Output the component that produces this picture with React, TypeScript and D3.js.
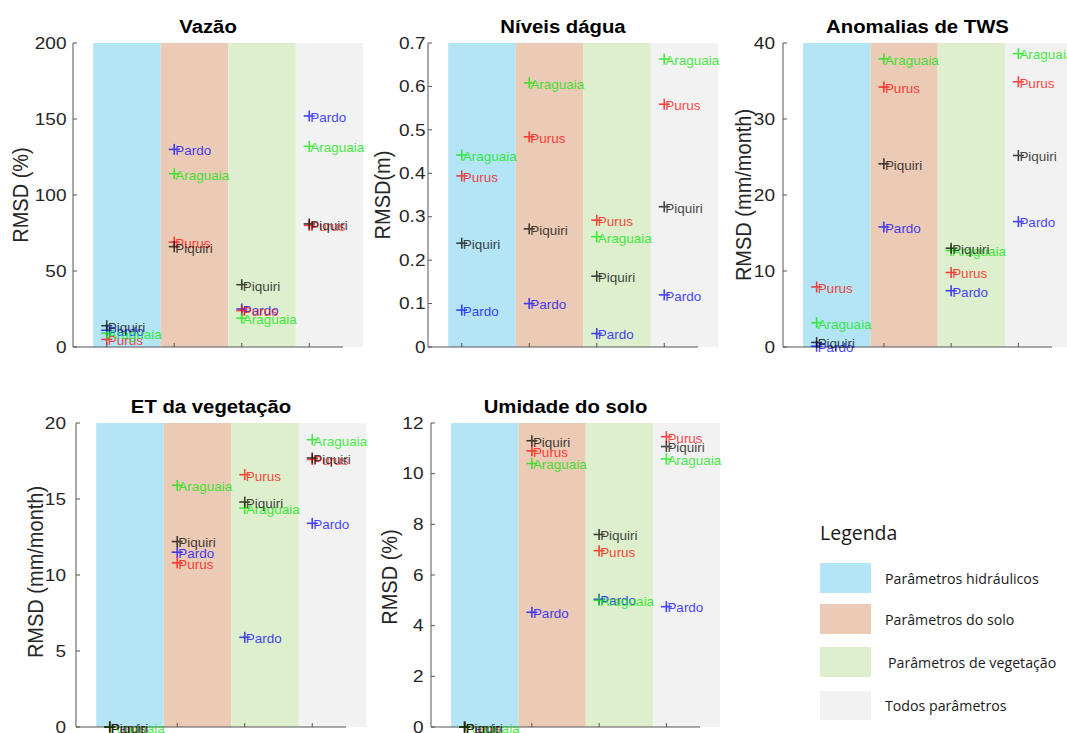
import React from "react";
import * as d3 from "d3";

// ---------- data ----------
const basins = ["Pardo", "Purus", "Araguaia", "Piquiri"];
const basinColors = ["#0000ff", "#ff0000", "#00e600", "#000000"];
const groups = ["Parâmetros hidráulicos", "Parâmetros do solo", "Parâmetros de vegetação", "Todos parâmetros"];
const groupColors = ["#b3e5f6", "#ebcbb6", "#ddefcd", "#f2f2f2"];
const groupIndex = [1, 2, 3, 4];

// rows: Pardo, Purus, Araguaia, Piquiri ; cols: groups
const vazaoValues = [
  [11, 130, 25, 152],
  [5, 69, 24, 80],
  [9, 114, 19, 132],
  [14, 66, 41, 81],
];
const vazaoTicks = [0, 50, 100, 150, 200];
const vazaoTickLabels = ["0", "50", "100", "150", "200"];

const niveisValues = [
  [0.085, 0.1, 0.031, 0.12],
  [0.394, 0.484, 0.292, 0.559],
  [0.442, 0.608, 0.254, 0.663],
  [0.239, 0.272, 0.163, 0.323],
];
const niveisTicks = [0, 0.1, 0.2, 0.3, 0.4, 0.5, 0.6, 0.7];
const niveisTickLabels = ["0", "0.1", "0.2", "0.3", "0.4", "0.5", "0.6", "0.7"];

const twsValues = [
  [0.1, 15.8, 7.4, 16.5],
  [7.9, 34.2, 9.8, 34.9],
  [3.2, 37.9, 12.7, 38.6],
  [0.6, 24.1, 13.0, 25.2],
];
const twsTicks = [0, 10, 20, 30, 40];
const twsTickLabels = ["0", "10", "20", "30", "40"];

const etValues = [
  [0, 11.5, 5.9, 13.4],
  [0, 10.8, 16.6, 17.6],
  [0, 15.9, 14.4, 18.9],
  [0, 12.2, 14.8, 17.7],
];
const etTicks = [0, 5, 10, 15, 20];
const etTickLabels = ["0", "5", "10", "15", "20"];

const soloValues = [
  [0, 4.53, 5.04, 4.75],
  [0, 10.9, 6.96, 11.46],
  [0, 10.4, 5.0, 10.58],
  [0, 11.3, 7.6, 11.07],
];
const soloTicks = [0, 2, 4, 6, 8, 10, 12];
const soloTickLabels = ["0", "2", "4", "6", "8", "10", "12"];

// ---------- layout ----------
const panels = [
  { title: "Vazão", ylabel: "RMSD (%)", values: vazaoValues, ticks: vazaoTicks, tickLabels: vazaoTickLabels,
    left: 73, right: 343, top: 43, bottom: 347, tickGap: 6.5, ylx: 28, yly: 195, titleY: 33 },
  { title: "Níveis dágua", ylabel: "RMSD(m)", values: niveisValues, ticks: niveisTicks, tickLabels: niveisTickLabels,
    left: 428, right: 698, top: 43, bottom: 347, tickGap: 2.5, ylx: 390, yly: 195, titleY: 33 },
  { title: "Anomalias de TWS", ylabel: "RMSD (mm/month)", values: twsValues, ticks: twsTicks, tickLabels: twsTickLabels,
    left: 783, right: 1052, top: 43, bottom: 347, tickGap: 8, ylx: 751, yly: 195, titleY: 33 },
  { title: "ET da vegetação", ylabel: "RMSD (mm/month)", values: etValues, ticks: etTicks, tickLabels: etTickLabels,
    left: 76, right: 346, top: 423, bottom: 727, tickGap: 10, ylx: 43, yly: 572, titleY: 413 },
  { title: "Umidade do solo", ylabel: "RMSD (%)", values: soloValues, ticks: soloTicks, tickLabels: soloTickLabels,
    left: 431, right: 700, top: 423, bottom: 727, tickGap: 7.5, ylx: 397, yly: 577, titleY: 413 },
];

const FONT = "'Liberation Sans', Arial, Helvetica, sans-serif";
const AXIS = "#555555";
const TXT = "#262626";

function Panel({ p }: { p: any }) {
  const ymax = p.ticks[p.ticks.length - 1];
  const x = d3.scaleLinear().domain([0.5, 4.5]).range([p.left, p.right]);
  const y = d3.scaleLinear().domain([0, ymax]).range([p.bottom, p.top]);
  const cx = (p.left + p.right) / 2;
  return (
    <g>
      {groupIndex.map((g, i) => (
        <rect key={"b" + i} x={x(g - 0.2)} y={y(ymax)} width={x(g + 0.8) - x(g - 0.2)}
          height={y(0) - y(ymax)} fill={groupColors[i]} />
      ))}
      {/* axes */}
      <line x1={p.left} x2={p.left} y1={y(ymax)} y2={y(0)} stroke={AXIS} strokeWidth={1} />
      <line x1={p.left} x2={p.right} y1={y(0)} y2={y(0)} stroke={AXIS} strokeWidth={1} />
      {p.ticks.map((t: number, i: number) => (
        <g key={"t" + i}>
          <line x1={p.left} x2={p.left + 4} y1={y(t)} y2={y(t)} stroke={AXIS} />
          <text transform={`translate(${p.left - p.tickGap},${y(t)}) scale(1.12,1)`} textAnchor="end"
            dominantBaseline="central" fontFamily={FONT} fontSize={17} fill={TXT}>{p.tickLabels[i]}</text>
        </g>
      ))}
      {groupIndex.map((g, i) => (
        <line key={"xt" + i} x1={x(g)} x2={x(g)} y1={y(0)} y2={y(0) - 4} stroke={AXIS} />
      ))}
      {/* markers + labels */}
      {p.values.map((row: number[], bi: number) =>
        row.map((v: number, gi: number) => {
          const mx = x(groupIndex[gi]);
          const my = y(v);
          return (
            <g key={`m${bi}-${gi}`} opacity={0.72}>
              <line x1={mx - 5.5} x2={mx + 5.5} y1={my} y2={my} stroke={basinColors[bi]} strokeWidth={1.6} />
              <line x1={mx} x2={mx} y1={my - 5.5} y2={my + 5.5} stroke={basinColors[bi]} strokeWidth={1.6} />
              <text transform={`translate(${mx + 1},${my + 1.5}) scale(1.08,1)`} dominantBaseline="central"
                fontFamily={FONT} fontSize={12.5} fill={basinColors[bi]}>{basins[bi]}</text>
            </g>
          );
        })
      )}
      <text transform={`translate(${cx},${p.titleY}) scale(1.07,1)`} textAnchor="middle" fontFamily={FONT}
        fontWeight="bold" fontSize={19} fill="#000">{p.title}</text>
      <text transform={`translate(${p.ylx},${p.yly}) scale(1.1,1) rotate(-90)`} textAnchor="middle"
        fontFamily={FONT} fontSize={20} fill={TXT}>{p.ylabel}</text>
    </g>
  );
}

function Legend() {
  const sw = { x: 820, w: 51 };
  const ys = [563, 604, 647, 691];
  const hs = [30, 30, 30, 29];
  const tx = [885, 885, 888, 885];
  return (
    <g>
      <text x={820} y={540} fontFamily="'Open Sans', sans-serif" fontSize={19.5} fill="#1a1a1a">Legenda</text>
      {groups.map((g, i) => (
        <g key={g}>
          <rect x={sw.x} y={ys[i]} width={sw.w} height={hs[i]} fill={groupColors[i]} />
          <text x={tx[i]} y={ys[i] + hs[i] / 2} dominantBaseline="central" fontFamily="'Open Sans', sans-serif"
            fontSize={14.2} fill="#1a1a1a">{g}</text>
        </g>
      ))}
    </g>
  );
}

export default function App() {
  return (
    <svg width={1067} height={733} style={{ position: "absolute", left: 0, top: 0, background: "#fff" }}>
      <rect x={0} y={0} width={1067} height={733} fill="#fff" />
      {panels.map((p, i) => <Panel key={i} p={p} />)}
      <Legend />
    </svg>
  );
}
